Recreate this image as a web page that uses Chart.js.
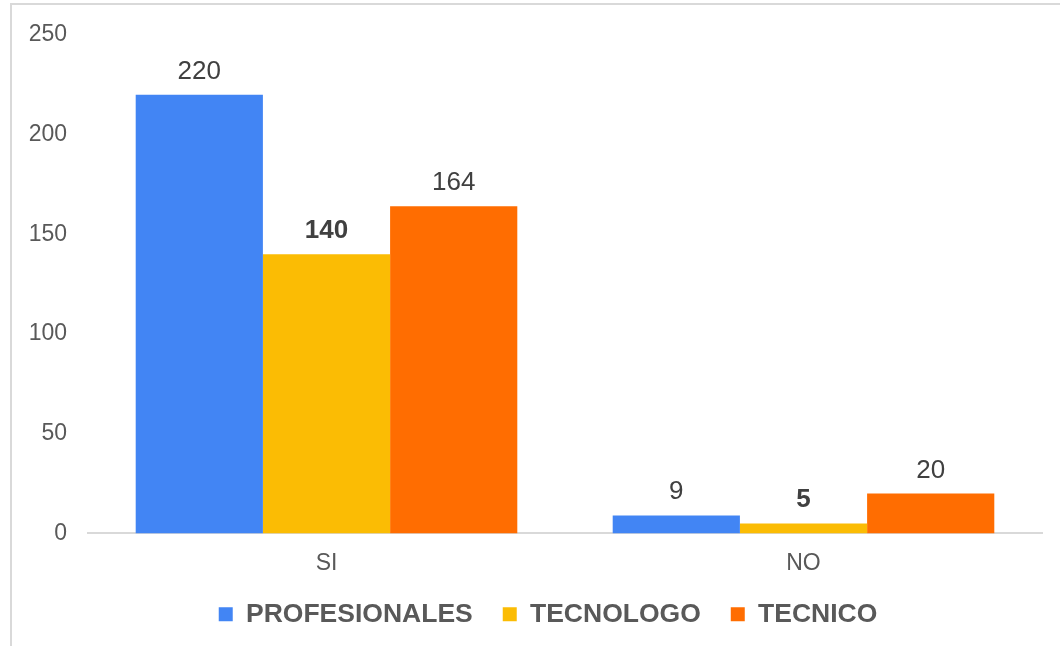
<!DOCTYPE html>
<html>
<head>
<meta charset="utf-8">
<script src="https://cdn.jsdelivr.net/npm/chart.js@4"></script>
<style>
  body { margin: 0; background: #fff; }
  #wrap { position: relative; width: 1060px; height: 646px; }
  #frame { position: absolute; left: 10px; top: 3px; width: 1060px; height: 660px;
           border-left: 2px solid #d9d9d9; border-top: 2px solid #d9d9d9; pointer-events: none; }
</style>
</head>
<body>
<div id="wrap">
  <canvas id="myChart" width="1060" height="646"></canvas>
  <div id="frame"></div>
</div>
<script>
var categories = ['SI', 'NO'];
var seriesNames = ['PROFESIONALES', 'TECNOLOGO', 'TECNICO'];
var profesionales = [220, 9];
var tecnologo = [140, 5];
var tecnico = [164, 20];
var yTicks = [0, 50, 100, 150, 200, 250];

var colors = ['#4285F4', '#FBBC04', '#FF6D01'];
var boldSeries = [false, true, false];
var FONT = "'Liberation Sans', Arial, sans-serif";

// value labels above each bar
var valueLabels = {
    id: 'valueLabels',
    afterDatasetsDraw: function(chart){
        var ctx = chart.ctx;
        ctx.save();
        ctx.fillStyle = '#404040';
        ctx.textAlign = 'center';
        ctx.textBaseline = 'alphabetic';
        chart.data.datasets.forEach(function(ds, i){
            var meta = chart.getDatasetMeta(i);
            ctx.font = (boldSeries[i] ? 'bold ' : '') + '26px ' + FONT;
            meta.data.forEach(function(el, j){
                ctx.fillText(String(ds.data[j]), el.x, el.y - 16);
            });
        });
        ctx.restore();
    }
};

// nudge the legend box into place after layout
var legendShift = {
    id: 'legendShift',
    afterLayout: function(chart){
        var lg = chart.legend;
        if (!lg) return;
        lg.left += 13; lg.right += 13;
        lg.top -= 14; lg.bottom -= 14;
    }
};

var ctx = document.getElementById('myChart').getContext('2d');
new Chart(ctx, {
    type: 'bar',
    data: {
        labels: categories,
        datasets: [
            { label: seriesNames[0], data: profesionales, backgroundColor: colors[0] },
            { label: seriesNames[1], data: tecnologo, backgroundColor: colors[1] },
            { label: seriesNames[2], data: tecnico, backgroundColor: colors[2] }
        ]
    },
    options: {
        responsive: false,
        devicePixelRatio: 1,
        animation: false,
        datasets: { bar: { categoryPercentage: 0.8, barPercentage: 1.0 } },
        layout: { padding: { left: 28, right: 18, top: 33, bottom: 0 } },
        scales: {
            x: {
                grid: { display: false },
                border: { display: true, color: '#d9d9d9', width: 2 },
                ticks: { color: '#595959', font: { family: FONT, size: 23 }, padding: 8 }
            },
            y: {
                min: 0,
                max: 250,
                afterBuildTicks: function(scale){
                    scale.ticks = yTicks.map(function(v){ return { value: v }; });
                },
                afterFit: function(scale){ scale.width = 60; },
                grid: { display: false, drawTicks: false },
                border: { display: false },
                ticks: { color: '#595959', font: { family: FONT, size: 23 }, padding: 21 }
            }
        },
        plugins: {
            legend: {
                position: 'bottom',
                maxHeight: 61,
                labels: {
                    boxWidth: 14,
                    boxHeight: 14,
                    padding: 30,
                    color: '#595959',
                    font: { family: FONT, size: 26.5, weight: 'bold' }
                }
            },
            tooltip: { enabled: false }
        }
    },
    plugins: [valueLabels, legendShift]
});
</script>
</body>
</html>
